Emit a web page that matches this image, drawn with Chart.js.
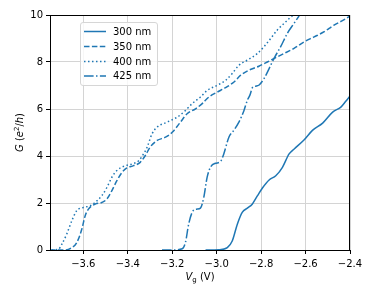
<!DOCTYPE html>
<html>
<head>
<meta charset="utf-8">
<script src="https://cdn.jsdelivr.net/npm/chart.js@4/dist/chart.umd.min.js"></script>
<style>
  html, body { margin: 0; padding: 0; background: #fff; }
  #wrap { width: 374px; height: 299px; }
</style>
</head>
<body>
<div id="wrap"><canvas id="g-chart"></canvas></div>
<script>
// gate voltage (V) and conductance (e^2/h)
const v300 = [-3.05, -2.99, -2.952, -2.93, -2.907, -2.885, -2.862, -2.84, -2.817, -2.794, -2.764, -2.734, -2.704, -2.674, -2.651, -2.606, -2.569, -2.523, -2.478, -2.441, -2.418, -2.4];
const g300 = [0, 0.01, 0.1, 0.38, 1.1, 1.6, 1.78, 1.95, 2.3, 2.64, 2.98, 3.16, 3.52, 4.09, 4.3, 4.69, 5.09, 5.4, 5.87, 6.08, 6.34, 6.55];

const v350 = [-3.75, -3.682, -3.652, -3.63, -3.607, -3.592, -3.577, -3.547, -3.517, -3.494, -3.472, -3.449, -3.426, -3.404, -3.374, -3.344, -3.321, -3.3, -3.268, -3.23, -3.2, -3.163, -3.133, -3.095, -3.065, -3.035, -2.997, -2.96, -2.922, -2.892, -2.855, -2.81, -2.772, -2.742, -2.697, -2.652, -2.606, -2.561, -2.516, -2.472, -2.434, -2.4];
const g350 = [0, 0, 0.1, 0.31, 0.88, 1.45, 1.74, 1.95, 2.02, 2.17, 2.52, 2.95, 3.3, 3.49, 3.59, 3.73, 4.02, 4.37, 4.66, 4.8, 5.01, 5.44, 5.8, 6.01, 6.23, 6.51, 6.72, 6.91, 7.15, 7.44, 7.65, 7.82, 8.0, 8.15, 8.36, 8.58, 8.86, 9.07, 9.29, 9.57, 9.76, 9.96];

const v400 = [-3.742, -3.712, -3.697, -3.675, -3.652, -3.63, -3.6, -3.569, -3.539, -3.517, -3.494, -3.472, -3.449, -3.419, -3.381, -3.351, -3.329, -3.313, -3.291, -3.268, -3.223, -3.178, -3.14, -3.11, -3.073, -3.043, -2.997, -2.96, -2.93, -2.9, -2.862, -2.817, -2.787, -2.757, -2.727, -2.689, -2.659, -2.64];
const g400 = [0, 0.03, 0.24, 0.67, 1.24, 1.67, 1.81, 1.88, 2.09, 2.31, 2.66, 3.09, 3.38, 3.56, 3.66, 3.8, 4.09, 4.37, 4.94, 5.23, 5.44, 5.65, 5.94, 6.23, 6.51, 6.79, 7.01, 7.22, 7.51, 7.86, 8.08, 8.36, 8.65, 9.0, 9.36, 9.71, 9.96, 10.0];

const v425 = [-3.246, -3.2, -3.155, -3.14, -3.126, -3.106, -3.088, -3.073, -3.058, -3.043, -3.028, -3.005, -2.983, -2.968, -2.945, -2.923, -2.9, -2.877, -2.862, -2.85, -2.839, -2.82, -2.809, -2.787, -2.764, -2.742, -2.712, -2.682, -2.652, -2.629];
const g425 = [0, 0, 0.05, 0.34, 1.1, 1.67, 1.74, 1.78, 2.24, 3.09, 3.52, 3.69, 3.76, 4.09, 4.8, 5.09, 5.44, 5.94, 6.37, 6.6, 6.91, 6.98, 7.02, 7.29, 7.72, 8.15, 8.65, 9.22, 9.64, 9.96];

const seriesLabels = ["300 nm", "350 nm", "400 nm", "425 nm"];
const xTicks = [-3.6, -3.4, -3.2, -3.0, -2.8, -2.6, -2.4];
const yTicks = [0, 2, 4, 6, 8, 10];

const blue = "#1f77b4";
const font = "DejaVu Sans";

function pts(vs, gs) {
    return vs.map((v, i) => ({ x: v, y: gs[i] }));
}
function minus(s) {
    return s.replace("-", "\u2212");
}

const dashes = [[], [5.5, 2.4], [1.5, 2.5], [9.6, 2.4, 1.5, 2.4]];
const datasets = [[v300, g300], [v350, g350], [v400, g400], [v425, g425]].map((s, i) => ({
    label: seriesLabels[i],
    data: pts(s[0], s[1]),
    borderColor: blue,
    borderWidth: 1.5,
    borderDash: dashes[i],
    pointRadius: 0,
    fill: false,
    cubicInterpolationMode: "monotone"
}));

// frame, axis labels and legend, drawn the matplotlib way
const extras = {
    id: "extras",
    afterDraw(chart) {
        const ctx = chart.ctx;
        const a = chart.chartArea;
        ctx.save();
        ctx.strokeStyle = "#000";
        ctx.lineWidth = 1;
        ctx.strokeRect(a.left + 0.5, a.top + 0.5, a.right - a.left - 1, a.bottom - a.top);

        // x label: V_g (V)
        ctx.fillStyle = "#000";
        ctx.textBaseline = "alphabetic";
        ctx.textAlign = "left";
        const big = "10px '" + font + "'";
        const bigIt = "italic 10px '" + font + "'";
        const small = "7px '" + font + "'";
        ctx.font = bigIt; const w1 = ctx.measureText("V").width;
        ctx.font = small; const w2 = ctx.measureText("g").width;
        ctx.font = big; const w3 = ctx.measureText(" (V)").width;
        let x = (a.left + a.right) / 2 - (w1 + w2 + w3) / 2;
        const yb = 280;
        ctx.font = bigIt; ctx.fillText("V", x, yb); x += w1;
        ctx.font = small; ctx.fillText("g", x, yb + 2); x += w2;
        ctx.font = big; ctx.fillText(" (V)", x, yb);

        // y label: G (e^2/h)
        ctx.translate(23, (a.top + a.bottom) / 2);
        ctx.rotate(-Math.PI / 2);
        const parts = [["G", bigIt, 0], [" (", big, 0], ["e", bigIt, 0], ["2", small, -4], ["/", big, 0], ["h", bigIt, 0], [")", big, 0]];
        let tw = 0;
        parts.forEach(p => { ctx.font = p[1]; tw += ctx.measureText(p[0]).width; });
        let px = -tw / 2;
        parts.forEach(p => {
            ctx.font = p[1];
            ctx.fillText(p[0], px, p[2]);
            px += ctx.measureText(p[0]).width;
        });
        ctx.restore();

        // legend box
        ctx.save();
        const bx = 80.5, by = 22.5, bw = 77, bh = 63, r = 2.5;
        ctx.fillStyle = "rgba(255,255,255,0.8)";
        ctx.strokeStyle = "#d6d6d6";
        ctx.lineWidth = 1;
        ctx.beginPath();
        ctx.moveTo(bx + r, by);
        ctx.arcTo(bx + bw, by, bx + bw, by + bh, r);
        ctx.arcTo(bx + bw, by + bh, bx, by + bh, r);
        ctx.arcTo(bx, by + bh, bx, by, r);
        ctx.arcTo(bx, by, bx + bw, by, r);
        ctx.closePath();
        ctx.fill();
        ctx.stroke();
        const rows = [31.5, 46.5, 61.5, 76];
        chart.data.datasets.forEach((ds, i) => {
            ctx.strokeStyle = ds.borderColor;
            ctx.lineWidth = ds.borderWidth;
            ctx.setLineDash(ds.borderDash);
            ctx.beginPath();
            ctx.moveTo(84, rows[i]);
            ctx.lineTo(106, rows[i]);
            ctx.stroke();
            ctx.setLineDash([]);
            ctx.fillStyle = "#000";
            ctx.font = big;
            ctx.textBaseline = "middle";
            ctx.fillText(ds.label, 113, rows[i] + 0.5);
        });
        ctx.restore();
    }
};

const tickFont = { family: font, size: 10 };

new Chart(document.getElementById("g-chart").getContext("2d"), {
    type: "line",
    data: { datasets: datasets },
    options: {
        responsive: true,
        maintainAspectRatio: false,
        animation: false,
        layout: { padding: { top: 15, right: 24, left: 0, bottom: 0 } },
        plugins: { legend: { display: false }, tooltip: { enabled: false } },
        scales: {
            x: {
                type: "linear",
                min: -3.75,
                max: -2.4,
                afterBuildTicks: s => { s.ticks = xTicks.map(v => ({ value: v })); },
                afterFit: s => { s.height = 49; },
                grid: { color: "#d4d4d4", lineWidth: 1, tickColor: "#000", tickLength: 4 },
                border: { color: "#000", width: 1 },
                ticks: {
                    color: "#000",
                    font: tickFont,
                    padding: 4,
                    maxRotation: 0,
                    callback: v => minus(v.toFixed(1))
                }
            },
            y: {
                type: "linear",
                min: 0,
                max: 10,
                afterBuildTicks: s => { s.ticks = yTicks.map(v => ({ value: v })); },
                afterFit: s => { s.width = 50; },
                grid: { color: "#d4d4d4", lineWidth: 1, tickColor: "#000", tickLength: 4 },
                border: { color: "#000", width: 1 },
                ticks: {
                    color: "#000",
                    font: tickFont,
                    padding: 3,
                    callback: v => String(v)
                }
            }
        }
    },
    plugins: [extras]
});
</script>
</body>
</html>
